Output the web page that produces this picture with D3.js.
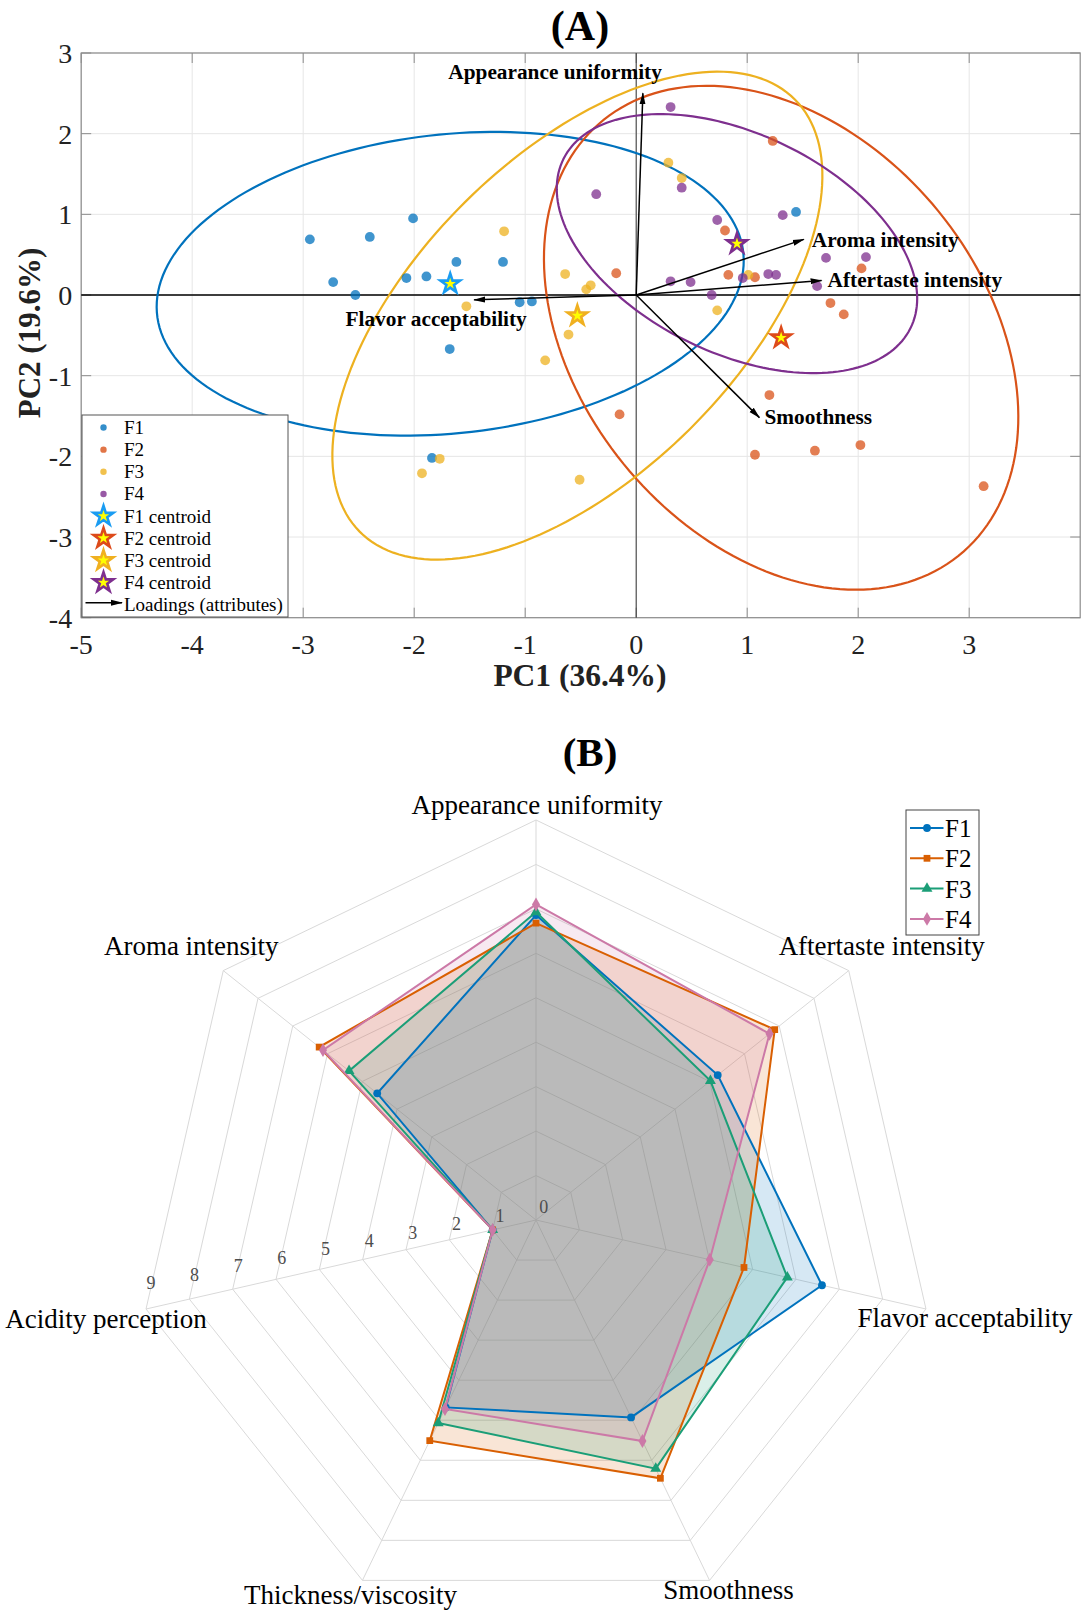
<!DOCTYPE html>
<html><head><meta charset="utf-8">
<script src="https://cdn.jsdelivr.net/npm/d3@7"></script>
<style>
body{margin:0;background:#fff}
svg{display:block}
text{font-family:"Liberation Serif","Times New Roman",serif}
</style></head>
<body><svg id="chart" width="1084" height="1613"></svg>
<script>
// ---------------- Panel A data (PCA scores) ----------------
const groups = ["F1","F2","F3","F4"];
const pc1F1 = [-2.94,-2.73,-2.53,-2.40,-2.01,-2.07,-1.89,-1.62,-1.20,-1.05,-0.94,-1.68,-1.84,1.44];
const pc2F1 = [0.69,0.16,0.00,0.72,0.95,0.21,0.23,0.41,0.41,-0.09,-0.08,-0.67,-2.02,1.03];
const pc1F2 = [1.23,0.80,0.83,1.07,-0.18,2.03,1.75,1.87,1.20,-0.15,1.07,1.61,2.02,3.13];
const pc2F2 = [1.91,0.80,0.25,0.22,0.27,0.33,-0.10,-0.24,-1.24,-1.48,-1.98,-1.93,-1.86,-2.37];
const pc1F3 = [-1.19,-1.53,-0.82,-1.93,-1.77,-0.64,-0.41,0.29,0.41,1.01,0.73,-0.61,-0.51,-0.45];
const pc2F3 = [0.79,-0.14,-0.81,-2.21,-2.03,0.26,0.12,1.64,1.45,0.25,-0.19,-0.49,-2.29,0.07];
const pc1F4 = [0.31,-0.36,0.41,0.73,1.32,1.71,2.07,0.31,0.49,0.96,1.19,1.26,1.63,0.68];
const pc2F4 = [2.33,1.25,1.33,0.93,0.99,0.46,0.47,0.17,0.16,0.21,0.26,0.25,0.11,0.00];

const loadingNames = ["Appearance uniformity","Aroma intensity","Aftertaste intensity","Smoothness","Flavor acceptability"];
const loadingPC1 = [0.06,1.51,1.67,1.11,-1.46];
const loadingPC2 = [2.50,0.69,0.18,-1.52,-0.06];

const xTicksA = [-5,-4,-3,-2,-1,0,1,2,3];
const yTicksA = [-4,-3,-2,-1,0,1,2,3];
const xLabelA = "PC1 (36.4%)";
const yLabelA = "PC2 (19.6%)";

// ---------------- Panel B data (sensory means) ----------------
const attributes = ["Appearance uniformity","Aftertaste intensity","Flavor acceptability","Smoothness","Thickness/viscosity","Acidity perception","Aroma intensity"];
const radarF1 = [6.86,5.23,6.60,4.93,4.68,1.00,4.57];
const radarF2 = [6.68,6.87,4.80,6.45,5.51,1.00,6.24];
const radarF3 = [6.93,5.02,5.80,6.21,5.07,1.00,5.38];
const radarF4 = [7.10,6.72,4.01,5.52,4.72,1.00,6.13];
const ringTicks = [0,1,2,3,4,5,6,7,8,9];

// ---------------- styles / layout ----------------
const ellipseColors = ["#0072BD","#D95319","#EDB120","#7E2F8E"];
const starEdge = ["#1A9CF2","#DD4A1A","#F0B020","#7E2F8E"];
const radarColors = ["#0072BD","#D95F02","#1B9E77","#CC79A7"];
const radarShapes = [d3.symbolCircle,d3.symbolSquare,d3.symbolTriangle,d3.symbolDiamond];
const radarShapeSize = [48,46,52,56];

const svg = d3.select("#chart");

// =============== PANEL A =================
const gA = svg.append("g");
const x = d3.scaleLinear().domain([-5,4]).range([81.2,1080.2]);
const y = d3.scaleLinear().domain([-4,3]).range([617.7,53]);
const [X0,X1] = x.range(), [Y0,Y1] = y.range();

// grid
gA.selectAll(".gx").data(xTicksA).join("line")
  .attr("x1",d=>x(d)).attr("x2",d=>x(d)).attr("y1",Y0).attr("y2",Y1)
  .attr("stroke","#e6e6e6").attr("stroke-width",1);
gA.selectAll(".gy").data(yTicksA).join("line")
  .attr("y1",d=>y(d)).attr("y2",d=>y(d)).attr("x1",X0).attr("x2",X1)
  .attr("stroke","#e6e6e6").attr("stroke-width",1);

// box
gA.append("rect").attr("x",X0).attr("y",Y1).attr("width",X1-X0).attr("height",Y0-Y1)
  .attr("fill","none").attr("stroke","#8c8c8c").attr("stroke-width",1.2);
// inward ticks
const tl = 10;
xTicksA.forEach(t=>{
  gA.append("line").attr("x1",x(t)).attr("x2",x(t)).attr("y1",Y0).attr("y2",Y0-tl).attr("stroke","#8c8c8c");
  gA.append("line").attr("x1",x(t)).attr("x2",x(t)).attr("y1",Y1).attr("y2",Y1+tl).attr("stroke","#8c8c8c");
});
yTicksA.forEach(t=>{
  gA.append("line").attr("y1",y(t)).attr("y2",y(t)).attr("x1",X0).attr("x2",X0+tl).attr("stroke","#8c8c8c");
  gA.append("line").attr("y1",y(t)).attr("y2",y(t)).attr("x1",X1).attr("x2",X1-tl).attr("stroke","#8c8c8c");
});
// tick labels
gA.selectAll(".xt").data(xTicksA).join("text")
  .attr("x",d=>x(d)).attr("y",Y0+36).attr("text-anchor","middle")
  .attr("font-size",28).attr("fill","#222").text(d=>d);
gA.selectAll(".yt").data(yTicksA).join("text")
  .attr("x",X0-9).attr("y",d=>y(d)+10).attr("text-anchor","end")
  .attr("font-size",28).attr("fill","#222").text(d=>d);

// axis labels
gA.append("text").attr("x",580).attr("y",686).attr("text-anchor","middle")
  .attr("font-size",31.5).attr("font-weight","bold").attr("fill","#222").text(xLabelA);
gA.append("text").attr("transform","translate(40,333) rotate(-90)").attr("text-anchor","middle")
  .attr("font-size",31).attr("font-weight","bold").attr("fill","#222").text(yLabelA);
// title
svg.append("text").attr("x",580).attr("y",40).attr("text-anchor","middle")
  .attr("font-size",42).attr("font-weight","bold").text("(A)");

// zero lines
gA.append("line").attr("x1",X0).attr("x2",X1).attr("y1",y(0)).attr("y2",y(0))
  .attr("stroke","#000").attr("stroke-width",1.4);
gA.append("line").attr("x1",x(0)).attr("x2",x(0)).attr("y1",Y0).attr("y2",Y1)
  .attr("stroke","#333").attr("stroke-width",1);

const pcData = [[pc1F1,pc2F1],[pc1F2,pc2F2],[pc1F3,pc2F3],[pc1F4,pc2F4]];

// 95% confidence ellipses from covariance
const k95 = Math.sqrt(5.991);
function ellipse(xs, ys){
  const n = xs.length, mx = d3.mean(xs), my = d3.mean(ys);
  let a=0,b=0,c=0;
  for(let i=0;i<n;i++){const dx=xs[i]-mx, dy=ys[i]-my; a+=dx*dx; b+=dx*dy; c+=dy*dy;}
  a/=(n-1); b/=(n-1); c/=(n-1);
  const m=(a+c)/2, d=Math.sqrt(((a-c)/2)**2+b*b);
  const l1=m+d, l2=m-d, phi=0.5*Math.atan2(2*b,a-c);
  const pts=[];
  for(let t=0;t<=360;t+=2){
    const r=t*Math.PI/180;
    const u=k95*Math.sqrt(l1)*Math.cos(r), v=k95*Math.sqrt(l2)*Math.sin(r);
    pts.push([mx+u*Math.cos(phi)-v*Math.sin(phi), my+u*Math.sin(phi)+v*Math.cos(phi)]);
  }
  return pts;
}
const lineA = d3.line().x(d=>x(d[0])).y(d=>y(d[1]));
pcData.forEach((g,i)=>{
  gA.append("path").attr("d",lineA(ellipse(g[0],g[1]))+"Z")
    .attr("fill","none").attr("stroke",ellipseColors[i]).attr("stroke-width",2.2);
});

// points
pcData.forEach((g,i)=>{
  gA.append("g").selectAll("circle").data(d3.range(g[0].length)).join("circle")
    .attr("cx",j=>x(g[0][j])).attr("cy",j=>y(g[1][j])).attr("r",4.9)
    .attr("fill",ellipseColors[i]).attr("fill-opacity",0.75);
});

// loadings arrows
const defs = svg.append("defs");
defs.append("marker").attr("id","ah").attr("viewBox","0 0 12 8").attr("refX",11).attr("refY",4)
  .attr("markerWidth",12).attr("markerHeight",8).attr("markerUnits","userSpaceOnUse").attr("orient","auto")
  .append("path").attr("d","M0,1 L12,4 L0,7 Z").attr("fill","#000");
const labelAnchor = ["end","start","start","start","middle"];
const labelDx = [19,8,6,5,-38];
const labelDy = [-14,8,6.5,6,26];
loadingNames.forEach((nm,i)=>{
  gA.append("line").attr("x1",x(0)).attr("y1",y(0))
    .attr("x2",x(loadingPC1[i])).attr("y2",y(loadingPC2[i]))
    .attr("stroke","#000").attr("stroke-width",1.5).attr("marker-end","url(#ah)");
  gA.append("text").attr("x",x(loadingPC1[i])+labelDx[i]).attr("y",y(loadingPC2[i])+labelDy[i])
    .attr("text-anchor",labelAnchor[i]).attr("font-size",21.3).attr("font-weight","bold").text(nm);
});

// centroids
const star = d3.symbol().type(d3.symbolStar).size(120);
pcData.forEach((g,i)=>{
  gA.append("path").attr("d",star())
    .attr("transform",`translate(${x(d3.mean(g[0]))},${y(d3.mean(g[1]))})`)
    .attr("fill","#FFFF00").attr("stroke",starEdge[i]).attr("stroke-width",2.6).attr("stroke-linejoin","miter");
});

// legend A
const lgA = gA.append("g").attr("transform","translate(82,415)");
lgA.append("rect").attr("width",206).attr("height",202).attr("fill","#fff").attr("stroke","#555").attr("stroke-width",1);
const rowA = i=>12.5+i*22.15;
groups.forEach((g,i)=>{
  lgA.append("circle").attr("cx",21.5).attr("cy",rowA(i)).attr("r",3.2).attr("fill",ellipseColors[i]).attr("fill-opacity",0.8);
  lgA.append("text").attr("x",42).attr("y",rowA(i)+6.5).attr("font-size",19).text(g);
});
groups.forEach((g,i)=>{
  lgA.append("path").attr("d",star()).attr("transform",`translate(21.5,${rowA(i+4)})`)
    .attr("fill","#FFFF00").attr("stroke",starEdge[i]).attr("stroke-width",2.6);
  lgA.append("text").attr("x",42).attr("y",rowA(i+4)+6.5).attr("font-size",19).text(g+" centroid");
});
lgA.append("line").attr("x1",3.5).attr("x2",40).attr("y1",rowA(8)-2).attr("y2",rowA(8)-2)
  .attr("stroke","#000").attr("stroke-width",1.5).attr("marker-end","url(#ah)");
lgA.append("text").attr("x",42).attr("y",rowA(8)+6.5).attr("font-size",19).text("Loadings (attributes)");

// =============== PANEL B =================
const gB = svg.append("g");
const cx = 536, cy = 1220;
const r = d3.scaleLinear().domain([0,9]).range([0,400]);
const nA = attributes.length;
const ang = j => -Math.PI/2 + j*2*Math.PI/nA;
const pt = (j,v) => [cx + r(v)*Math.cos(ang(j)), cy + r(v)*Math.sin(ang(j))];

svg.append("text").attr("x",590).attr("y",766).attr("text-anchor","middle")
  .attr("font-size",41).attr("font-weight","bold").text("(B)");

// grid rings
ringTicks.slice(1).forEach(t=>{
  gB.append("path").attr("d",d3.line()(d3.range(nA).map(j=>pt(j,t)))+"Z")
    .attr("fill","none").attr("stroke","#d9d9d9").attr("stroke-width",1);
});
d3.range(nA).forEach(j=>{
  const p = pt(j,9);
  gB.append("line").attr("x1",cx).attr("y1",cy).attr("x2",p[0]).attr("y2",p[1])
    .attr("stroke","#d9d9d9").attr("stroke-width",1);
});

const radar = [radarF1,radarF2,radarF3,radarF4];
// fills
radar.forEach((s,i)=>{
  gB.append("path").attr("d",d3.line()(s.map((v,j)=>pt(j,v)))+"Z")
    .attr("fill",radarColors[i]).attr("fill-opacity",0.16).attr("stroke","none");
});
// lines + markers
radar.forEach((s,i)=>{
  gB.append("path").attr("d",d3.line()(s.map((v,j)=>pt(j,v)))+"Z")
    .attr("fill","none").attr("stroke",radarColors[i]).attr("stroke-width",2);
  const sym = d3.symbol().type(radarShapes[i]).size(radarShapeSize[i]);
  gB.append("g").selectAll("path").data(s).join("path")
    .attr("d",sym()).attr("transform",(v,j)=>{const p=pt(j,v);return `translate(${p[0]},${p[1]})`;})
    .attr("fill",radarColors[i]);
});

// ring tick labels (along a line near the Acidity axis)
const tickAng = 169.1*Math.PI/180;
gB.selectAll(".rt").data(ringTicks).join("text")
  .attr("x",d=>cx+7.7+r(d)*Math.cos(tickAng)).attr("y",d=>cy-12.7+r(d)*Math.sin(tickAng))
  .attr("text-anchor","middle").attr("dominant-baseline","central")
  .attr("font-size",18).attr("fill","#4d4d4d").text(d=>d);

// attribute labels
const attrDx = [1,33,39,19,-12,-40,-32];
const attrDy = [-6,-15.6,17.8,18.6,23.6,18.5,-15.6];
attributes.forEach((a,j)=>{
  const p = pt(j,9);
  gB.append("text").attr("x",p[0]+attrDx[j]).attr("y",p[1]+attrDy[j]).attr("text-anchor","middle")
    .attr("font-size",27).attr("fill","#000").text(a);
});

// legend B
const lgB = gB.append("g").attr("transform","translate(906,810)");
lgB.append("rect").attr("width",73).attr("height",125).attr("fill","#fff").attr("stroke","#444").attr("stroke-width",1);
groups.forEach((g,i)=>{
  const yy = 18 + i*30.3;
  lgB.append("line").attr("x1",4).attr("x2",37.5).attr("y1",yy).attr("y2",yy)
    .attr("stroke",radarColors[i]).attr("stroke-width",2);
  lgB.append("path").attr("d",d3.symbol().type(radarShapes[i]).size(radarShapeSize[i])())
    .attr("transform",`translate(21,${yy})`).attr("fill",radarColors[i]);
  lgB.append("text").attr("x",39).attr("y",yy+9).attr("font-size",25).text(g);
});
</script>
</body></html>
